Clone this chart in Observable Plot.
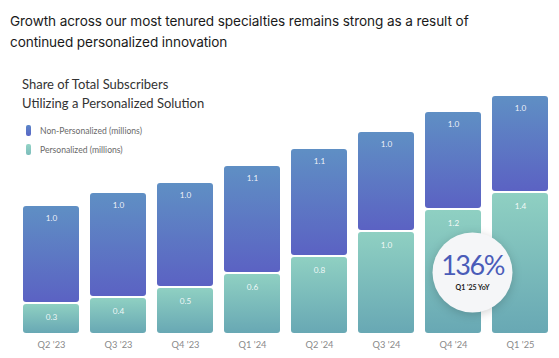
<!DOCTYPE html>
<html><head><meta charset="utf-8">
<script src="https://cdn.jsdelivr.net/npm/d3@7"></script>
<script src="https://cdn.jsdelivr.net/npm/@observablehq/plot@0.6"></script>
<style>
body{margin:0;background:#fff;width:559px;height:358px;overflow:hidden;}
#title{font-family:Inter,"Noto Sans",sans-serif;font-size:13.6px;line-height:21px;color:#1a1a1a;padding:11px 0 0 10px;height:44px;box-sizing:content-box;letter-spacing:-0.1px}
#wrap{position:relative;width:559px;height:303px;}
#sub{position:absolute;left:22px;top:20px;font-family:Lato,sans-serif;font-size:13px;line-height:19px;color:#333;}
#legend{position:absolute;left:26px;top:66px;font-family:Lato,sans-serif;font-size:8.6px;color:#6a6a6a;}
.li{display:flex;align-items:center;height:19px}
.sw{width:5px;height:11px;border-radius:2px;margin-right:9px}
</style></head>
<body>
<div id="title">Growth across our most tenured specialties remains strong as a result of<br>continued personalized innovation</div>
<div id="wrap">
<div id="sub">Share of Total Subscribers<br>Utilizing a Personalized Solution</div>
<div id="legend"></div>
</div>
<script>
const quarters = ["Q2 '23","Q3 '23","Q4 '23","Q1 '24","Q2 '24","Q3 '24","Q4 '24","Q1 '25"];
const personalized = [0.30,0.36,0.46,0.60,0.77,1.02,1.24,1.41];
const nonPersonalized = [0.97,1.04,1.04,1.07,1.07,0.99,0.97,0.96];
const seriesNames = ["Non-Personalized (millions)","Personalized (millions)"];
const calloutValue = "136%";
const calloutLabel = "Q1 '25 YoY";

const fmt = d3.format(".1f");
const rows = quarters.map((q,i)=>({q, p:personalized[i], n:nonPersonalized[i], t:personalized[i]+nonPersonalized[i]}));

const legend = document.getElementById("legend");
const swatches = ["linear-gradient(#5b86c8,#5a66c6)","linear-gradient(#94d4c6,#7cbcbb)"];
seriesNames.forEach((s,i)=>{
  const d=document.createElement("div");d.className="li";
  d.innerHTML=`<span class="sw" style="background:${swatches[i]}"></span><span>${s}</span>`;
  legend.appendChild(d);
});

const chart = Plot.plot({
  width:559, height:303,
  marginLeft:22, marginRight:11, marginTop:28, marginBottom:25,
  style:{background:"transparent", fontFamily:"Lato, sans-serif"},
  x:{domain:quarters, paddingInner:0.165, paddingOuter:0, label:null, tickSize:0, tickPadding:8},
  y:{domain:[0,2.5], axis:null},
  marks:[
    Plot.rectY(rows,{x:"q", y1:0, y2:"p", fill:"url(#gPers)", rx:3, insetTop:1}),
    Plot.rectY(rows,{x:"q", y1:"p", y2:"t", fill:"url(#gNon)", rx:3, insetBottom:1}),
    Plot.text(rows,{x:"q", y:"t", text:d=>fmt(d.n), dy:12, fill:"#fff", fillOpacity:0.9, fontSize:8.2}),
    Plot.text(rows,{x:"q", y:"p", text:d=>fmt(d.p), dy:14, fill:"#fff", fillOpacity:0.9, fontSize:8.2}),
    Plot.dot([calloutValue],{x:()=>quarters[6], y:()=>0.61, dx:19, r:40, fill:"#f5f6f8", stroke:"none"}),
    Plot.text([calloutValue],{x:()=>quarters[6], y:()=>0.61, dx:19, dy:-6, text:d=>d, fill:"#4a5cb8", fontSize:27, fontWeight:400}),
    Plot.text([calloutLabel],{x:()=>quarters[6], y:()=>0.61, dx:19, dy:15, text:d=>d, fill:"#222", fontSize:7, fontWeight:700}),
    Plot.axisX({tickSize:0, tickPadding:8, fontSize:9.3, color:"#8a8a8a", label:null})
  ]
});
const svg = d3.select(chart);
const defs = svg.insert("defs",":first-child");
const g1 = defs.append("linearGradient").attr("id","gNon").attr("x1",0).attr("y1",0).attr("x2",0).attr("y2",1);
g1.append("stop").attr("offset","0%").attr("stop-color","#5f8fc4");
g1.append("stop").attr("offset","100%").attr("stop-color","#5b62c3");
const g2 = defs.append("linearGradient").attr("id","gPers").attr("x1",0).attr("y1",0).attr("x2",0).attr("y2",1);
g2.append("stop").attr("offset","0%").attr("stop-color","#8fd0c2");
g2.append("stop").attr("offset","100%").attr("stop-color","#68a8b4");
svg.selectAll("circle").style("filter","drop-shadow(0px 2px 5px rgba(0,0,0,0.18))");
svg.selectAll("text").filter(function(){return this.textContent===calloutValue;}).style("letter-spacing","-1.5px");
document.getElementById("wrap").prepend(chart);
chart.style.position="absolute";chart.style.left="0";chart.style.top="0";
</script>
</body></html>
